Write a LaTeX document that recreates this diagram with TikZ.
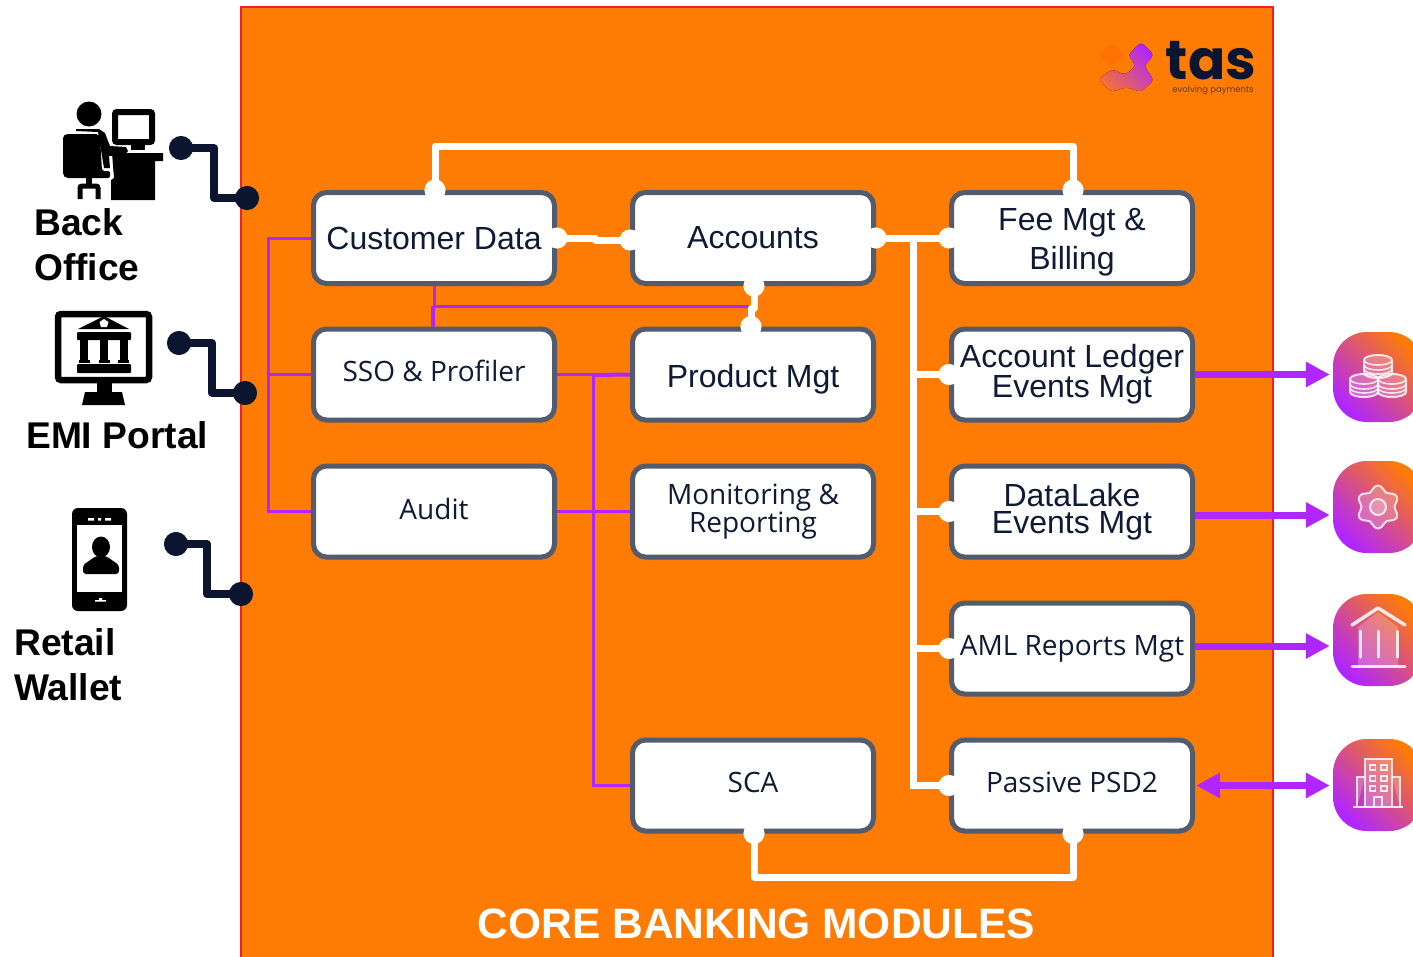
\documentclass[tikz,border=0pt]{standalone}
\usepackage{fontspec}
\setmainfont{Liberation Sans}
\newfontfamily\osans{Open Sans}
\newfontfamily\popp{Poppins}
\usetikzlibrary{arrows.meta,calc}
\newcommand{\nudgetext}[2]{\raisebox{#1}[\height][\depth]{#2}}
\definecolor{panelorange}{HTML}{FF7C04}
\definecolor{panelred}{HTML}{F0202A}
\definecolor{boxedge}{HTML}{525C6E}
\definecolor{navy}{HTML}{0B1530}
\definecolor{vio}{HTML}{B026FF}
\definecolor{inktext}{HTML}{0F1B35}
\definecolor{logoorange}{HTML}{F2703A}
\tikzset{
 modbox/.style={draw=boxedge,line width=5pt,fill=white,rounded corners=13pt,minimum width=241pt,minimum height=91pt,inner sep=0pt,align=center,text=inktext},
 sansbox/.style={modbox,font=\fontsize{32}{39}\selectfont},
 osbox/.style={modbox,font=\osans\fontsize{28}{27}\selectfont},
 wire/.style={draw=white,line width=7pt,line join=round,{Circle[length=21pt,width=21pt]}-{Circle[length=21pt,width=21pt]},shorten <=-10.5pt,shorten >=-10.5pt},
 wireend/.style={draw=white,line width=7pt,-{Circle[length=21pt,width=21pt]},shorten >=-10.5pt},
 thinbus/.style={draw=vio,line width=3pt,line join=miter},
 link/.style={draw=navy,line width=8pt,line join=round,{Circle[length=24pt,width=24pt]}-{Circle[length=24pt,width=24pt]},shorten <=-12pt,shorten >=-12pt},
 flow/.style={draw=vio,line width=7pt,-{Triangle[length=24pt,width=24pt]},shorten >=3pt},
 flowboth/.style={draw=vio,line width=7pt,{Triangle[length=24pt,width=24pt]}-{Triangle[length=24pt,width=24pt]},shorten >=3pt,shorten <=1pt},
 sysicon/.style={rounded corners=34pt,minimum width=90pt,minimum height=#1,inner sep=0pt,shading=axis,bottom color=vio,top color=panelorange,shading angle=-45},
 glyph/.style={draw=white,draw opacity=.8,line width=2pt,fill=white,fill opacity=.22},
 chan/.style={font=\fontsize{37.2}{45}\selectfont\bfseries,inner sep=0pt,align=left,text=black},
}
\begin{document}
\begin{tikzpicture}[x=1pt,y=-1pt]
\useasboundingbox (0,0) rectangle (1413,956);
\clip (0,0) rectangle (1413,956);
\fill[white] (0,0) rectangle (1413,956);
% panel
\draw[fill=panelorange,draw=panelred,line width=2pt] (241,7) rectangle (1273,980);
\node[font=\fontsize{42.5}{50}\selectfont\bfseries,text=white,inner sep=0pt] (title) at (756.5,924) {CORE BANKING MODULES};
% logo
\fill[rounded corners=4pt,fill=panelorange!92!red] (1098,55) -- (1112,43) -- (1125,55) -- (1112,67) -- cycle;
\fill[rounded corners=4pt,shading=axis,bottom color=logoorange,top color=vio,shading angle=-45] (1128,55) -- (1141,42) -- (1154,55) -- (1144,66) -- (1154,80) -- (1141,92) -- (1126,87) -- (1112,92) -- (1098,80) -- (1112,69) -- (1125,75) -- (1136,66) -- cycle;
\node[font=\popp\fontsize{55}{55}\selectfont\bfseries,text=navy,inner sep=0pt] (tasword) at (1211,61) {tas};
\node[font=\popp\fontsize{8.5}{9}\selectfont,text=navy!65!panelorange,inner sep=0pt] (tastag) at (1213,90) {evolving payments};
% boxes
\node[sansbox] (cust) at (434,238) {Customer Data};
\node[sansbox] (acc) at (753,238) {Accounts};
\node[sansbox] (fee) at (1072,238) {\nudgetext{-4pt}{Fee Mgt \&}\\\nudgetext{-4pt}{Billing}};
\node[osbox] (sso) at (434,374.5) {\nudgetext{3.5pt}{SSO \& Profiler}};
\node[sansbox] (prod) at (753,374.5) {\nudgetext{-5pt}{Product Mgt}};
\node[sansbox,font=\fontsize{32}{27.5}\selectfont] (ledger) at (1072,374.5) {Account Ledger\\Events Mgt};
\node[osbox] (audit) at (434,511.5) {\nudgetext{3pt}{Audit}};
\node[osbox] (mon) at (753,511.5) {Monitoring \&\\Reporting};
\node[sansbox,font=\fontsize{32}{27}\selectfont] (lake) at (1072,511.5) {DataLake\\Events Mgt};
\node[osbox] (aml) at (1072,648.5) {AML Reports Mgt};
\node[osbox] (sca) at (753,785.5) {\nudgetext{3pt}{SCA}};
\node[osbox] (psd) at (1072,785.5) {\nudgetext{3pt}{Passive PSD2}};
% purple buses
\coordinate (leftbus) at (268,238);
\coordinate (midbus) at (593,375);
\draw[thinbus] (cust.west) -- (leftbus) |- (audit.west);
\draw[thinbus] (leftbus |- sso.west) -- (sso.west);
\draw[thinbus] (sso.east) -- (prod.west);
\draw[thinbus,line width=4pt] (midbus) -- (prod.west);
\draw[thinbus] (audit.east) -- (mon.west);
\draw[thinbus] (midbus) |- (sca.west);
\path (acc.south) -- (prod.north) coordinate[midway] (apm);
\draw[thinbus] (cust.south) -- (cust.south |- apm);
\draw[thinbus,line width=4pt] ([xshift=-1.5pt]cust.south |- apm) -- ([xshift=-1.5pt]sso.north);
\draw[thinbus] (cust.south |- apm) -- (apm);
% white wires
\draw[wire] ([xshift=1pt]cust.north) -- ++(0,-44) -| ([xshift=1pt]fee.north);
\draw[wire] (cust.east) -- ++(38,0) -- ++(0,2) -- ($(acc.west)+(0,2)$);
\draw[wire] ([xshift=1pt]acc.south) -- ++(0,22) -- ++(-3,0) -- ([xshift=-2pt]prod.north);
\draw[wire] (acc.east) -- (fee.west);
\coordinate (rbus) at (913,238);
\draw[wireend] (rbus) |- (psd.west);
\draw[wireend] (rbus |- ledger.west) -- (ledger.west);
\draw[wireend] (rbus |- lake.west) -- (lake.west);
\draw[wireend] (rbus |- aml.west) -- (aml.west);
\draw[wire] ([xshift=1pt]sca.south) -- ++(0,44) -| ([xshift=1pt]psd.south);
% system icons
\node[sysicon=90pt] (ic1) at (1378,377) {};
\node[sysicon=92pt] (ic2) at (1378,507) {};
\node[sysicon=92pt] (ic3) at (1378,640) {};
\node[sysicon=92pt] (ic4) at (1378,785) {};
\draw[flow] (ledger.east) -- (ledger.east -| ic1.west);
\draw[flow] ([yshift=-3.5pt]lake.east) -- ([yshift=-3.5pt]lake.east -| ic2.west);
\draw[flow] ([yshift=2.5pt]aml.east) -- ([yshift=2.5pt]aml.east -| ic3.west);
\draw[flowboth] (psd.east) -- (psd.east -| ic4.west);
% coins
\foreach \cx/\cy in {1378/355,1364/374,1392/374}{
  \draw[glyph] (\cx-14,\cy+5) -- (\cx-14,\cy+18) arc[start angle=180,end angle=360,x radius=14,y radius=-5] -- (\cx+14,\cy+5) arc[start angle=0,end angle=180,x radius=14,y radius=-5] -- cycle;
  \draw[draw=white,draw opacity=.8,line width=1.6pt] (\cx-14,\cy+5) arc[start angle=180,end angle=360,x radius=14,y radius=-5];
  \draw[draw=white,draw opacity=.8,line width=1.6pt] (\cx-14,\cy+10) arc[start angle=180,end angle=360,x radius=14,y radius=-5];
  \draw[draw=white,draw opacity=.8,line width=1.6pt] (\cx-14,\cy+14) arc[start angle=180,end angle=360,x radius=14,y radius=-5];
}
% gear
\draw[glyph,line join=round] plot[smooth cycle,domain=0:350,samples=36,variable=\t] ({1378+(19-2.5*cos(6*\t))*cos(\t)},{507+(19-2.5*cos(6*\t))*sin(\t)});
\draw[glyph] (1378,507) circle (8);
% bank
\fill[white,opacity=.22] (1358,627) -- (1378,612) -- (1398,627) -- (1398,666) -- (1358,666) -- cycle;
\draw[draw=white,draw opacity=.85,line width=3.5pt,line cap=round,line join=round] (1352,625) -- (1378,608) -- (1405,625);
\draw[draw=white,draw opacity=.85,line width=3pt,line cap=round] (1360,631) -- (1360,657) (1378,631) -- (1378,657) (1397,631) -- (1397,657) (1352,666) -- (1405,666);
% building
\draw[glyph,line width=1.6pt] (1365,807) -- (1365,759) -- (1392,759) -- (1392,807);
\draw[glyph,line width=1.6pt] (1365,777) -- (1357,777) -- (1357,807) (1392,777) -- (1400,777) -- (1400,807);
\draw[draw=white,draw opacity=.85,line width=1.6pt] (1353,807) -- (1403,807);
\foreach \wy in {765,776,786}{
  \draw[draw=white,draw opacity=.85,line width=1.4pt] (1370,\wy) rectangle (1375.5,\wy+5) (1381,\wy) rectangle (1387,\wy+5);
}
\draw[draw=white,draw opacity=.85,line width=1.4pt] (1374,807) -- (1374,797) -- (1382,797) -- (1382,807);
% left labels
\node[chan,anchor=west] (lblback) at (34,244.5) {Back\\Office};
\node[chan,anchor=west] (lblemi) at (26,435) {EMI Portal};
\node[chan,anchor=west] (lblwallet) at (14,665) {Retail\\Wallet};
% left links
\coordinate (b1) at (181,148); \coordinate (b2) at (247,198);
\coordinate (e1) at (179,343); \coordinate (e2) at (245,393);
\coordinate (r1) at (176,544); \coordinate (r2) at (241,594);
\draw[link] (b1) -- (214,148) -- (214,198) -- (b2);
\draw[link] (e1) -- (212,343) -- (212,393) -- (e2);
\draw[link] (r1) -- (207,544) -- (207,594) -- (r2);
% back office icon
\fill[black] (89,114) circle (12.5);
\draw[black,line width=6pt,rounded corners=2pt,fill=white] (115,112) rectangle (152,142);
\fill[black] (131,145) rectangle (145,150);
\fill[black,rounded corners=2pt] (63,136) -- (66,134) -- (98,134) -- (100,137) -- (102,171) -- (110,171) -- (110,178) -- (66,178) -- (63,175) -- cycle;
\fill[black] (76,129) -- (99,129) -- (105,133) -- (110,146) -- (126,147) -- (128,151) -- (125,155) -- (109,156) -- (110,168) -- (104,168) -- (101,150) -- (98,132) -- (76,131) -- cycle;
\fill[black] (112,153) -- (163,153) -- (163,161) -- (155,161) -- (155,200) -- (111,200) -- (111,180) -- (114,178) -- cycle;
\fill[black] (86,178) rectangle (92,184);
\draw[black,line width=5pt,rounded corners=2pt] (80,199) -- (80,186) -- (98,186) -- (98,199);
% EMI icon
\draw[black,line width=6.5pt,rounded corners=3pt,fill=white] (58,314) rectangle (149,380);
\fill[black] (97,383) rectangle (112,394);
\fill[black] (85,392) -- (122,392) -- (125,405) -- (82,405) -- cycle;
\fill[black] (78,329) -- (104,316) -- (129,329) -- cycle;
\fill[white] (104,319) -- (108.5,322) -- (107,327) -- (101,327) -- (99.5,322) -- cycle;
\fill[black,rounded corners=1pt] (77,332) rectangle (131,340);
\fill[black,rounded corners=1pt] (77,364) rectangle (131,373);
\foreach \px in {84,104,123.5}{ \fill[black] (\px-4,340) rectangle (\px+4,362); \fill[black] (\px-5.5,360) rectangle (\px+5.5,363); }
% phone icon
\fill[black,rounded corners=6pt] (72,508) rectangle (127,611);
\fill[white] (77,525) rectangle (122,592);
\fill[white] (88,518) rectangle (94,520.5) (98,518) rectangle (101,520.5) (105,518) rectangle (111,520.5);
\fill[white] (95,600) rectangle (106,601.5) (99,598) rectangle (102,600);
\fill[black] (101,547) ellipse (9 and 10.5);
\fill[black,rounded corners=3pt] (83,574) -- (83,565) -- (96,556) -- (106,556) -- (119,565) -- (119,574) -- cycle;
\end{tikzpicture}
\end{document}
